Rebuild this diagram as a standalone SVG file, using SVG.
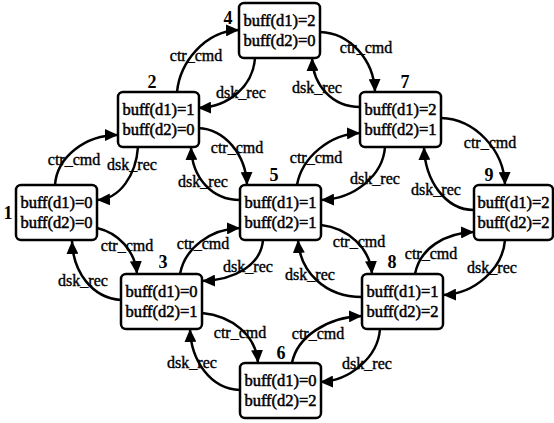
<svg xmlns="http://www.w3.org/2000/svg" width="554" height="423" viewBox="0 0 554 423">
<style>
.box{fill:#fff;stroke:#000;stroke-width:2.5}
.t{font-family:"Liberation Serif","Times New Roman",serif;font-size:16.5px;fill:#000;stroke:#000;stroke-width:0.5;text-anchor:middle}
.num{font-family:"Liberation Serif","Times New Roman",serif;font-size:18px;font-weight:bold;fill:#000;text-anchor:middle}
.lbl{font-family:"Liberation Serif","Times New Roman",serif;font-size:16px;fill:#000;stroke:#000;stroke-width:0.4;text-anchor:middle}
.e{fill:none;stroke:#000;stroke-width:2.5;marker-end:url(#ah)}
</style>
<defs>
<marker id="ah" markerUnits="userSpaceOnUse" markerWidth="13" markerHeight="12" refX="13" refY="6" orient="auto">
<path d="M0,0 L13,6 L0,12 z" fill="#000"/>
</marker>
</defs>
<rect width="554" height="423" fill="#fff"/>
<g id="connectors">
<path class="e" d="M55,185 C57,157 85,135 118,135"/>
<path class="e" d="M177,92 C180,62 205,31 239,30"/>
<path class="e" d="M180,274 C185,248 210,229 240,228"/>
<path class="e" d="M297,185 C302,157 330,134 360,133"/>
<path class="e" d="M292,363 C297,337 327,317 362,316"/>
<path class="e" d="M415,274 C420,248 445,233 474,232"/>
<path class="e" d="M138,147 C136,175 120,199 97,200"/>
<path class="e" d="M255,58 C253,85 230,107 198,108"/>
<path class="e" d="M263,240 C261,265 235,280 202,281"/>
<path class="e" d="M385,147 C383,175 355,199 321,200"/>
<path class="e" d="M380,329 C378,357 350,381 320,382"/>
<path class="e" d="M505,240 C503,268 475,294 443,295"/>
<path class="e" d="M198,128 C225,129 246,155 247,185"/>
<path class="e" d="M320,32 C350,33 374,60 375,92"/>
<path class="e" d="M441,118 C475,119 504,150 505,185"/>
<path class="e" d="M97,228 C118,233 135,250 137,274"/>
<path class="e" d="M321,225 C348,228 370,248 372,274"/>
<path class="e" d="M202,313 C232,316 256,335 258,363"/>
<path class="e" d="M240,200 C212,200 192,178 191,147"/>
<path class="e" d="M360,107 C332,107 313,85 312,58"/>
<path class="e" d="M474,210 C445,210 425,180 424,147"/>
<path class="e" d="M121,300 C92,298 73,272 72,241"/>
<path class="e" d="M362,297 C325,297 300,272 298,240"/>
<path class="e" d="M240,390 C210,389 191,360 190,329"/>
<text class="lbl" x="74" y="165">ctr_cmd</text>
<text class="lbl" x="132" y="170">dsk_rec</text>
<text class="lbl" x="196" y="61">ctr_cmd</text>
<text class="lbl" x="241" y="98">dsk_rec</text>
<text class="lbl" x="237" y="153">ctr_cmd</text>
<text class="lbl" x="203" y="187">dsk_rec</text>
<text class="lbl" x="366" y="53">ctr_cmd</text>
<text class="lbl" x="317" y="93">dsk_rec</text>
<text class="lbl" x="316" y="163">ctr_cmd</text>
<text class="lbl" x="375" y="184">dsk_rec</text>
<text class="lbl" x="490" y="148">ctr_cmd</text>
<text class="lbl" x="436" y="195">dsk_rec</text>
<text class="lbl" x="127" y="251">ctr_cmd</text>
<text class="lbl" x="83" y="286">dsk_rec</text>
<text class="lbl" x="203" y="249">ctr_cmd</text>
<text class="lbl" x="248" y="272">dsk_rec</text>
<text class="lbl" x="240" y="338">ctr_cmd</text>
<text class="lbl" x="192" y="368">dsk_rec</text>
<text class="lbl" x="359" y="247">ctr_cmd</text>
<text class="lbl" x="310" y="280">dsk_rec</text>
<text class="lbl" x="431" y="259">ctr_cmd</text>
<text class="lbl" x="492" y="273">dsk_rec</text>
<text class="lbl" x="318" y="339">ctr_cmd</text>
<text class="lbl" x="367" y="369">dsk_rec</text>
</g>
<g id="node1"><rect class="box" x="16" y="185" width="81" height="55" rx="5"/><text class="t" x="56.5" y="208">buff(d1)=0</text><text class="t" x="56.5" y="228">buff(d2)=0</text><text class="num" x="8" y="219">1</text></g>
<g id="node2"><rect class="box" x="118" y="92" width="81" height="55" rx="5"/><text class="t" x="158.5" y="115">buff(d1)=1</text><text class="t" x="158.5" y="135">buff(d2)=0</text><text class="num" x="152" y="88">2</text></g>
<g id="node3"><rect class="box" x="121" y="274" width="81" height="55" rx="5"/><text class="t" x="161.5" y="297">buff(d1)=0</text><text class="t" x="161.5" y="317">buff(d2)=1</text><text class="num" x="163" y="268">3</text></g>
<g id="node4"><rect class="box" x="239" y="3" width="81" height="55" rx="5"/><text class="t" x="279.5" y="26">buff(d1)=2</text><text class="t" x="279.5" y="46">buff(d2)=0</text><text class="num" x="228" y="24">4</text></g>
<g id="node5"><rect class="box" x="240" y="185" width="81" height="55" rx="5"/><text class="t" x="280.5" y="208">buff(d1)=1</text><text class="t" x="280.5" y="228">buff(d2)=1</text><text class="num" x="274" y="181">5</text></g>
<g id="node6"><rect class="box" x="240" y="363" width="81" height="55" rx="5"/><text class="t" x="280.5" y="386">buff(d1)=0</text><text class="t" x="280.5" y="406">buff(d2)=2</text><text class="num" x="281" y="359">6</text></g>
<g id="node7"><rect class="box" x="360" y="92" width="81" height="55" rx="5"/><text class="t" x="400.5" y="115">buff(d1)=2</text><text class="t" x="400.5" y="135">buff(d2)=1</text><text class="num" x="405" y="88">7</text></g>
<g id="node8"><rect class="box" x="362" y="274" width="81" height="55" rx="5"/><text class="t" x="402.5" y="297">buff(d1)=1</text><text class="t" x="402.5" y="317">buff(d2)=2</text><text class="num" x="392" y="268">8</text></g>
<g id="node9"><rect class="box" x="474" y="185" width="79" height="55" rx="5"/><text class="t" x="513.5" y="208">buff(d1)=2</text><text class="t" x="513.5" y="228">buff(d2)=2</text><text class="num" x="489" y="181">9</text></g>
</svg>
